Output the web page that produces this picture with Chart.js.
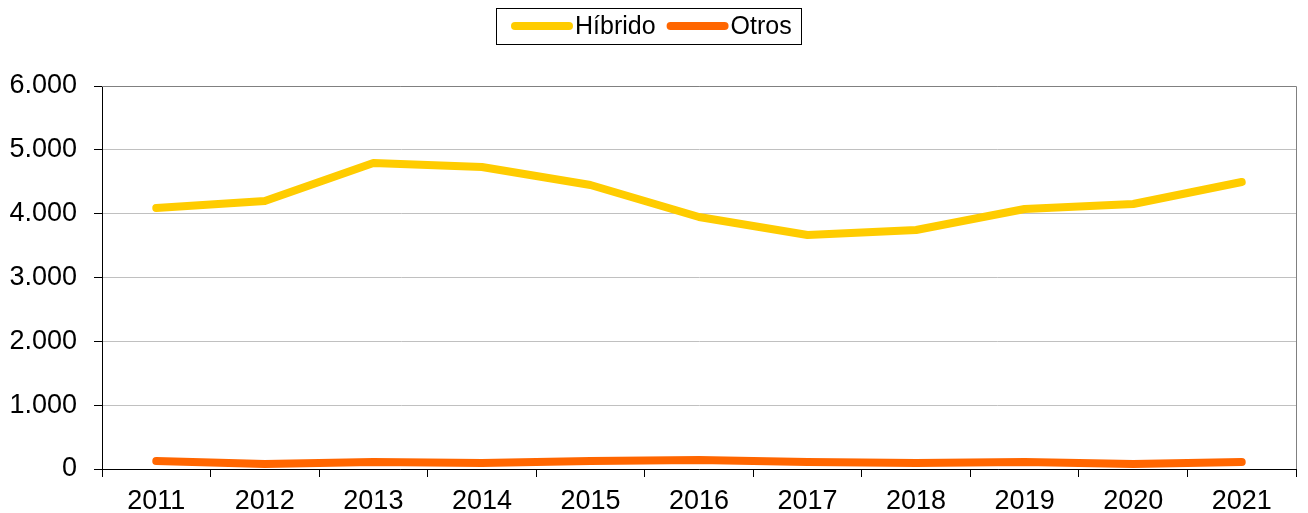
<!DOCTYPE html>
<html>
<head>
<meta charset="utf-8">
<script src="https://cdn.jsdelivr.net/npm/chart.js@4.4.1/dist/chart.umd.min.js"></script>
<style>
  html, body { margin: 0; padding: 0; background: #fff; }
  #wrap { width: 1308px; height: 513px; }
</style>
</head>
<body>
<div id="wrap"><canvas id="myChart"></canvas></div>
<script>
const years = ['2011', '2012', '2013', '2014', '2015', '2016', '2017', '2018', '2019', '2020', '2021'];
const hibrido = [4089, 4199, 4794, 4731, 4449, 3948, 3666, 3744, 4073, 4152, 4496];
const otros = [125, 78, 110, 94, 125, 141, 110, 94, 110, 78, 110];
const yTicks = [0, 1000, 2000, 3000, 4000, 5000, 6000];

const ctx = document.getElementById('myChart');
const fontFamily = 'Liberation Sans, Arial, sans-serif';
const tickFont = { family: fontFamily, size: 27 };

// legend drawn by hand: boxed, with round-capped line samples
const boxLegend = {
    id: 'boxLegend',
    afterDraw(chart) {
        const c = chart.ctx;
        const sets = chart.data.datasets;
        c.save();
        c.font = '25px ' + fontFamily;
        c.textBaseline = 'middle';
        const lineW = 54, gapText = 6, gapItem = 15, padL = 19, padR = 9;
        const widths = sets.map(ds => lineW + gapText + c.measureText(ds.label).width);
        const total = widths.reduce((a, b) => a + b, 0) + gapItem * (sets.length - 1) + padL + padR;
        const left = Math.round((chart.width - 12 - total) / 2);
        const top = 8, h = 36, cy = top + h / 2;
        c.strokeStyle = '#000';
        c.lineWidth = 1;
        c.strokeRect(left + 0.5, top + 0.5, Math.round(total), h);
        let x = left + padL;
        sets.forEach((ds, i) => {
            c.strokeStyle = ds.borderColor;
            c.lineWidth = ds.borderWidth;
            c.lineCap = 'round';
            c.beginPath();
            c.moveTo(x, cy);
            c.lineTo(x + lineW, cy);
            c.stroke();
            c.fillStyle = '#000';
            c.fillText(ds.label, x + lineW + gapText, cy + 1);
            x += widths[i] + gapItem;
        });
        c.restore();
    }
};

// grey frame on top and right of the plot
const frame = {
    id: 'frame',
    afterDraw(chart) {
        const c = chart.ctx;
        const a = chart.chartArea;
        c.save();
        c.strokeStyle = '#808080';
        c.lineWidth = 1;
        c.beginPath();
        c.moveTo(a.left, a.top + 0.5);
        c.lineTo(a.right + 0.5, a.top + 0.5);
        c.lineTo(a.right + 0.5, a.bottom);
        c.stroke();
        c.restore();
    }
};

const data = {
    labels: years,
    datasets: [{
        label: 'Híbrido',
        data: hibrido,
        borderColor: '#FFCC00',
        backgroundColor: '#FFCC00',
        borderWidth: 8,
        borderCapStyle: 'round',
        borderJoinStyle: 'round',
        pointRadius: 0,
        tension: 0
    }, {
        label: 'Otros',
        data: otros,
        borderColor: '#FF6600',
        backgroundColor: '#FF6600',
        borderWidth: 8,
        borderCapStyle: 'round',
        borderJoinStyle: 'round',
        pointRadius: 0,
        tension: 0
    }]
};

const config = {
    type: 'line',
    data: data,
    options: {
        responsive: true,
        maintainAspectRatio: false,
        animation: false,
        layout: { padding: { top: 86, right: 12, bottom: 0, left: 0 } },
        plugins: {
            legend: { display: false },
            tooltip: { enabled: false }
        },
        scales: {
            x: {
                offset: true,
                grid: {
                    offset: true,
                    drawOnChartArea: false,
                    tickLength: 8,
                    tickColor: '#000'
                },
                border: { color: '#000', width: 1 },
                ticks: { color: '#000', font: tickFont, padding: 8, maxRotation: 0 },
                afterFit(scale) { scale.height = 44; }
            },
            y: {
                min: 0,
                max: 6000,
                afterBuildTicks(scale) { scale.ticks = yTicks.map(v => ({ value: v })); },
                grid: {
                    color: '#c0c0c0',
                    tickLength: 8,
                    tickColor: '#000'
                },
                border: { color: '#000', width: 1 },
                ticks: {
                    color: '#000',
                    font: tickFont,
                    padding: 17,
                    callback: v => String(v).replace(/\B(?=(\d{3})+(?!\d))/g, '.')
                },
                afterFit(scale) { scale.width = 102; }
            }
        }
    },
    plugins: [boxLegend, frame]
};

const chart = new Chart(ctx, config);
</script>
</body>
</html>
